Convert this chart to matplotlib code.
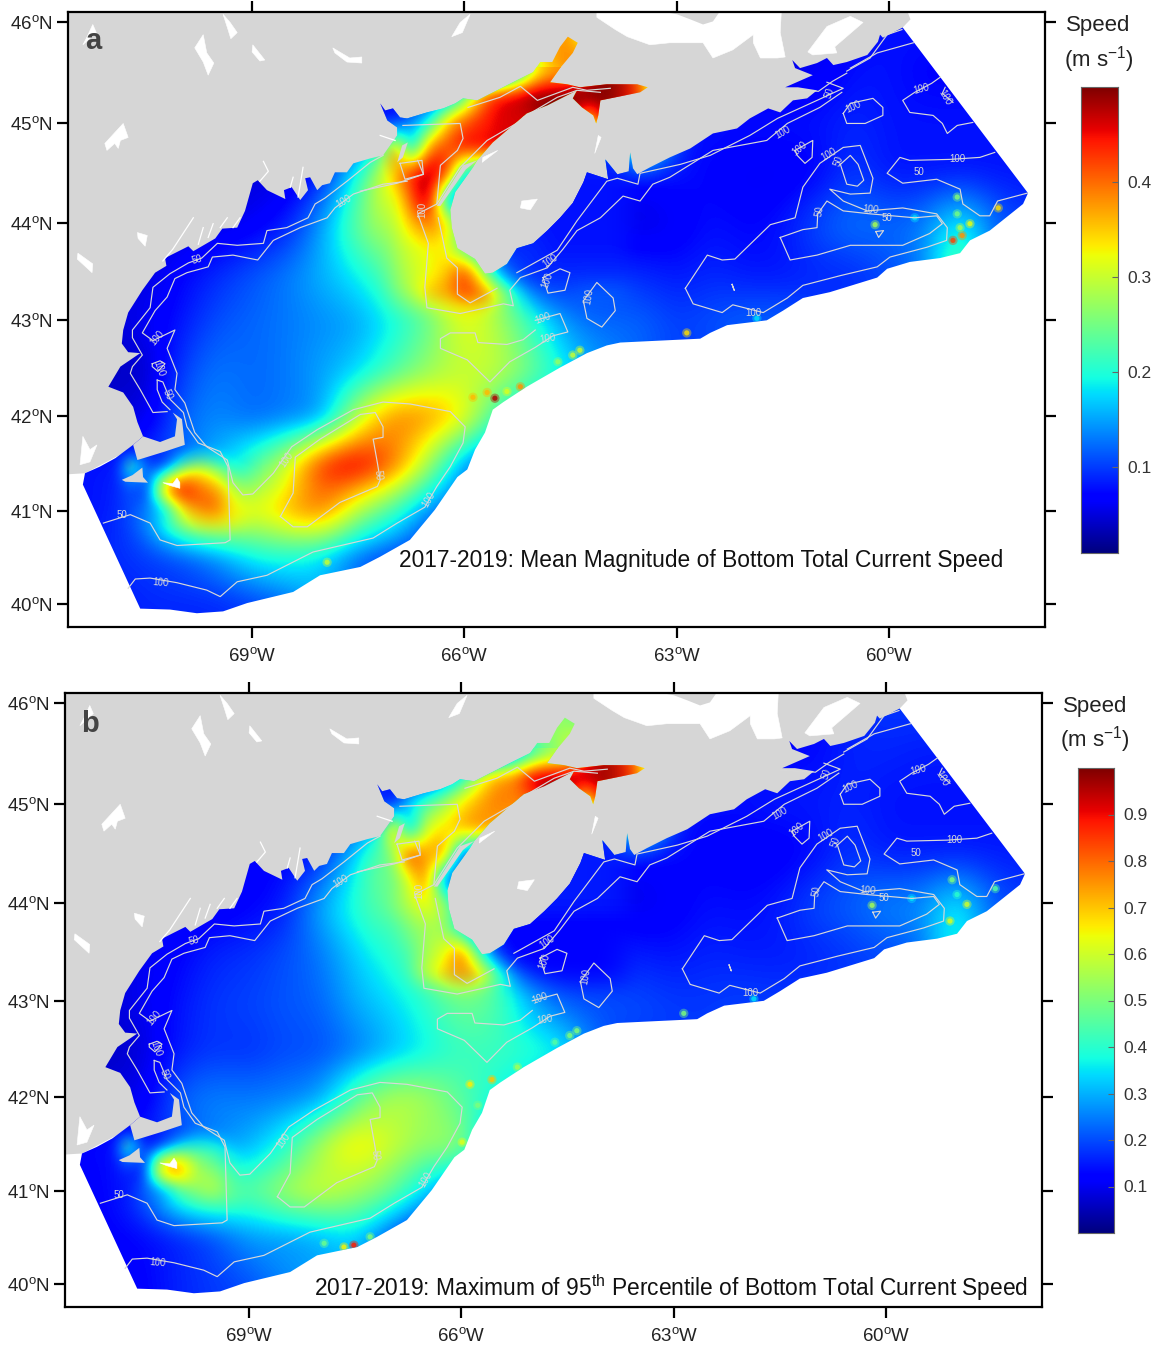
import numpy as np
import matplotlib
matplotlib.use("Agg")
import matplotlib.pyplot as plt
from matplotlib.patches import Polygon

plt.rcParams['font.family'] = ['Liberation Sans', 'DejaVu Sans']
plt.rcParams['mathtext.fontset'] = 'custom'
plt.rcParams['mathtext.rm'] = 'Liberation Sans'
plt.rcParams['mathtext.default'] = 'rm'

# ------------------------------------------------------------------ speed grids (cm/s)
BASE_LON = np.arange(-71.5, -57.9, 0.5)
BASE_LAT = np.arange(46, 39.9, -0.5)
base_a = [
 [5]*13+[35,42]+[5]*7+[7,8,8,8,8,8],
 [5]*13+[33,40,45,45,5,5,5,6,6,8,8,7,7,7,7],
 [5]*9+[10,20,37,42,30,10,45,45,8,8,8,8,8,9,8,8,8,8,8],
 [5,5,5,5,5,5,5,8,20,38,44,25,12,8,7,7,7,8,7,6,6,7,10,8,8,8,8,8],
 [5,5,5,5,5,6,8,15,25,31,38,20,10,8,7,6,5,6,8,7,8,11,13,12,13,20,12,10],
 [5,5,5,7,9,11,13,16,19,24,31,40,25,12,9,9,9,8,9,8,8,9,9,11,13,28,10,10],
 [5,5,6,8,11,12,13,14,15,19,24,33,28,20,13,12,12,10,11,12,12,10,10,10,10,10,10,10],
 [4,4,4,10,13,12,13,15,17,22,27,30,30,24,18,14,12,10,10,10,10,10,10,10,10,10,10,10],
 [5,5,5,12,14,12,13,14,30,39,38,33,20,15,15,12]+[10]*12,
 [8,8,10,12,16,22,30,44,47,40,28,14]+[10]*16,
 [8,8,13,33,38,31,36,40,28,22,13,10]+[10]*16,
 [9,9,10,11,14,19,20,18,12,10,8,8]+[8]*16,
 [8,8,9,9,9,10,12,16,12,10,8,8]+[8]*16,
]
base_b = [
 [12]*13+[50,55]+[12]*7+[16,18,18,18,18,18],
 [12]*13+[45,58,90,85,12,12,12,13,13,16,16,15,15,15,15],
 [12]*9+[20,40,60,70,50,15,85,85,14,14,14,15,15,16,14,14,14,14,14],
 [12,12,12,12,12,12,12,14,34,55,62,40,18,13,12,12,12,13,12,11,11,13,18,15,15,15,15,15],
 [10,10,10,10,10,12,14,30,40,50,55,35,15,13,12,10,9,11,14,13,15,20,22,26,26,38,22,18],
 [8,8,10,12,16,17,20,24,33,40,46,65,45,20,16,17,15,14,16,15,15,16,18,20,22,45,20,18],
 [8,8,10,14,18,19,21,22,30,34,40,50,45,28,20,20,20,18,18,19,18,18,18,18,18,18,18,18],
 [6,6,8,15,18,17,20,20,24,30,36,42,42,40,36,20,18,18]+[18]*10,
 [9,9,9,22,25,24,25,27,45,57,55,45,38,30,25,20]+[18]*12,
 [13,13,16,20,26,30,38,55,68,60,52,55,20]+[15]*15,
 [12,12,20,44,52,44,55,60,55,48,33,20]+[15]*16,
 [12,12,13,16,20,28,28,30,35,20,10,10]+[10]*16,
 [10,10,12,16,18,20,26,28,30,15,10,10]+[10]*16,
]

FUNDY_LON = np.arange(-67.25, -63.4, 0.25)
FUNDY_LAT = np.arange(45.5, 42.9, -0.25)
fundy_a = [
 [8,8,8,8,8,8,8,8,20,33,38,38,45,50,50,45],
 [5,5,8,8,14,25,40,46,47,50,50,50,50,50,48,45],
 [8,8,14,20,36,42,44,46,46,46,50,50,28,50,50,40],
 [30,42,15,40,42,45,45,46,46,46,10,10,10,10,10,10],
 [28,38,44,48,44,16,16,8,8,8,8,8,8,8,8,8],
 [26,30,42,50,14,12,8,8,8,8,8,8,8,8,8,8],
 [24,29,36,40,34,20,8,8,8,8,8,8,8,8,8,8],
 [22,28,31,33,33,22,15,9,9,9,8,8,8,8,8,7],
 [23,27,30,32,35,42,28,14,10,9,9,9,9,9,9,9],
 [22,26,29,36,38,44,42,30,18,12,11,11,12,12,12,11],
 [21,24,26,27,30,33,33,28,22,15,12,12,12,12,12,12],
]
fundy_b = [
 [10,10,10,10,10,10,10,10,28,45,55,58,85,97,95,85],
 [12,12,14,14,24,40,62,76,78,95,98,96,94,98,95,90],
 [12,10,34,45,55,68,74,78,76,78,95,95,50,95,95,80],
 [50,88,25,62,68,72,76,72,72,72,15,15,15,15,15,15],
 [42,50,88,72,78,22,18,15,15,15,15,15,15,15,15,15],
 [42,46,62,80,22,15,15,15,15,15,15,15,15,15,15,15],
 [40,50,58,65,55,32,15,15,15,15,15,15,15,15,15,15],
 [38,42,50,55,55,35,15,12,12,12,12,12,12,12,12,12],
 [36,40,44,55,62,78,42,18,12,12,12,12,12,12,12,12],
 [34,37,42,60,70,80,72,45,22,15,13,12,12,12,12,12],
 [32,34,37,42,50,55,50,42,28,22,18,16,16,16,16,16],
]

SHOAL_LON = np.arange(-71.0, -68.9, 0.25)
SHOAL_LAT = np.arange(41.75, 40.7, -0.25)
shoal_a = [
 [8,8,6,7,9,15,14,15,17],
 [8,30,10,9,24,30,24,19,17],
 [9,12,8,38,46,40,37,30,26],
 [9,10,13,17,34,40,41,33,33],
 [10,11,12,15,25,33,35,33,31],
]
shoal_b = [
 [12,12,9,10,12,26,22,24,26],
 [14,62,12,18,36,40,38,32,30],
 [14,18,12,78,80,55,50,44,40],
 [12,12,22,28,48,54,60,48,44],
 [14,14,18,22,32,40,44,46,44],
]

# local peaks along the shelf edge and banks: lon, lat, speed
spots_a = [(-67.94,40.45,30),(-62.86,42.87,34),(-61.87,43.02,18),(-65.57,42.19,48),(-65.88,42.20,36),
           (-65.68,42.25,36),(-65.21,42.31,38),(-65.40,42.26,31),(-64.47,42.64,30),(-64.37,42.69,30),
           (-64.68,42.57,27),(-59.04,44.26,26),(-59.10,43.82,42),(-58.97,43.87,38),(-58.86,43.99,32),
           (-59.00,43.95,28),(-59.04,44.09,25),(-58.46,44.15,34),(-60.20,43.98,28),(-59.64,44.05,18)]
spots_b = [(-67.52,40.42,88),(-67.66,40.40,65),(-67.94,40.44,48),(-67.29,40.51,50),(-65.99,41.52,62),
           (-65.88,42.13,66),(-65.57,42.18,70),(-65.77,41.91,50),(-62.86,42.87,50),(-61.87,43.02,35),
           (-60.20,43.98,55),(-59.64,44.05,35),(-59.07,44.24,50),(-59.10,43.82,62),(-58.86,43.99,60),
           (-58.46,44.15,45),(-59.00,44.09,40),(-65.21,42.31,55),(-64.47,42.64,50),(-64.37,42.69,50),(-64.68,42.57,45)]

# ------------------------------------------------------------------ outlines (lon, lat)
domain = [(-71.39,41.28),(-70.58,39.95),(-70.16,39.94),(-69.78,39.90),(-69.41,39.92),(-69.07,40.01),(-68.42,40.13),
 (-68.04,40.31),(-67.47,40.40),(-67.19,40.51),(-66.77,40.69),(-66.42,41.01),(-66.10,41.36),(-65.96,41.44),(-65.85,41.65),
 (-65.71,41.83),(-65.60,42.07),(-65.45,42.15),(-65.12,42.31),(-64.65,42.51),(-64.27,42.66),(-63.99,42.74),(-63.80,42.77),
 (-63.24,42.79),(-62.67,42.81),(-62.53,42.87),(-62.29,42.95),(-61.73,43.00),(-61.50,43.10),(-61.22,43.23),(-60.84,43.29),
 (-60.17,43.44),(-60.03,43.53),(-59.71,43.60),(-59.28,43.64),(-59.00,43.69),(-58.86,43.82),(-58.58,43.92),(-58.11,44.19),
 (-58.04,44.30),(-59.81,45.95),(-60.09,45.85),(-60.13,45.88),(-60.16,45.81),(-60.31,45.68),(-60.60,45.61),(-60.79,45.58),
 (-60.88,45.65),(-61.02,45.60),(-61.26,45.55),(-61.37,45.63),(-61.33,45.55),(-61.08,45.48),(-61.47,45.36),(-61.29,45.36),
 (-61.02,45.33),(-61.16,45.25),(-61.36,45.23),(-61.54,45.11),(-61.71,45.15),(-61.97,45.05),(-62.15,44.95),(-62.49,44.90),
 (-62.81,44.75),(-63.10,44.66),(-63.38,44.56),(-63.56,44.49),(-63.62,44.55),(-63.66,44.71),(-63.68,44.52),(-63.84,44.49),
 (-64.01,44.64),(-63.97,44.44),
 (-64.27,44.51),(-64.32,44.41),(-64.47,44.20),(-64.65,44.05),(-64.83,43.92),(-65.03,43.79),(-65.26,43.74),(-65.40,43.58),
 (-65.60,43.49),(-65.71,43.48),(-65.85,43.63),(-66.10,43.74),(-66.18,43.95),(-66.20,44.13),(-66.13,44.31),(-65.88,44.56),
 (-65.82,44.63),(-65.60,44.81),(-65.12,45.10),(-64.83,45.18),(-64.41,45.33),(-64.47,45.25),(-64.34,45.16),(-64.18,45.08),
 (-64.14,45.00),(-64.11,45.08),(-64.08,45.23),(-63.52,45.31),(-63.41,45.36),(-63.56,45.39),(-63.99,45.39),(-64.37,45.36),
 (-64.55,45.39),(-64.79,45.41),(-64.65,45.55),(-64.47,45.70),(-64.40,45.80),(-64.54,45.86),(-64.65,45.76),(-64.76,45.61),
 (-64.93,45.61),(-65.03,45.51),(-65.26,45.43),(-65.54,45.33),(-65.82,45.23),(-66.02,45.25),(-66.13,45.20),(-66.30,45.15),
 (-66.53,45.11),(-66.81,45.05),(-66.91,45.06),(-67.01,45.15),(-67.12,45.13),(-67.19,45.20),(-67.09,45.03),(-66.95,44.96),
 (-66.95,44.88),(-67.15,44.68),(-67.33,44.65),(-67.57,44.60),(-67.66,44.51),(-67.83,44.51),(-67.90,44.40),(-68.01,44.38),
 (-68.08,44.33),(-68.18,44.46),(-68.25,44.45),(-68.21,44.33),(-68.32,44.23),(-68.44,44.36),(-68.55,44.33),(-68.53,44.24),
 (-68.79,44.33),(-68.92,44.43),(-68.99,44.40),(-69.10,44.12),(-69.21,43.95),(-69.42,43.94),(-69.52,43.84),(-69.83,43.71),
 (-69.90,43.76),(-70.23,43.64),(-70.21,43.56),(-70.37,43.49),(-70.55,43.31),(-70.75,43.08),(-70.82,42.90),(-70.84,42.76),
 (-70.75,42.67),(-70.58,42.66),(-70.86,42.52),(-71.03,42.31),(-70.82,42.25),(-70.68,42.10),(-70.62,41.94),(-70.54,41.79),
 (-70.68,41.70),(-70.93,41.56),(-71.15,41.47),(-71.36,41.40)]
land = [(-71.8,46.3),(-71.8,41.38),(-71.36,41.40),(-70.6,41.7),(-69.5,43),(-67,44),(-66.3,43.9),(-65.8,43.45),(-65.5,43.3),
        (-63,44),(-60,45),(-59.81,45.95),(-59.7,46.03),(-59.85,46.3)]
cape_cod = [(-70.54,41.79),(-70.30,41.73),(-70.09,41.79),(-70.06,41.97),(-70.12,42.04),(-69.99,41.97),(-69.95,41.70),
            (-70.23,41.63),(-70.62,41.54),(-70.68,41.70)]
small_land = [
 [(-70.84,41.33),(-70.69,41.38),(-70.55,41.46),(-70.54,41.36),(-70.47,41.30),(-70.79,41.31)],
 [(-66.39,44.17),(-66.02,44.58),(-65.82,44.63),(-65.98,44.54),(-66.34,44.17)],
 [(-66.95,44.61),(-66.88,44.78),(-66.80,44.81),(-66.87,44.66)],
]
white_water = [
 [(-64.13,46.3),(-64.13,46.05),(-63.87,45.93),(-63.70,45.86),(-63.38,45.78),(-63.10,45.80),(-62.63,45.80),(-62.49,45.65),
  (-62.21,45.73),(-61.92,45.88),(-61.92,45.80),(-61.82,45.65),(-61.58,45.65),(-61.47,45.66),(-61.54,45.90),(-61.51,46.3)],
 [(-61.15,45.71),(-60.88,45.96),(-60.55,46.06),(-60.37,46.0),(-60.77,45.76),(-60.74,45.70),(-61.08,45.68)],
 [(-71.25,45.98),(-71.20,45.90),(-71.39,45.78),(-71.33,45.86)],
 [(-69.41,46.08),(-69.31,46.0),(-69.21,45.90),(-69.30,45.84),(-69.34,45.93)],
 [(-69.69,45.88),(-69.64,45.70),(-69.54,45.60),(-69.62,45.48),(-69.69,45.61),(-69.81,45.75)],
 [(-68.99,45.78),(-68.82,45.63),(-68.89,45.62),(-69.0,45.71)],
 [(-67.86,45.75),(-67.62,45.65),(-67.45,45.66),(-67.45,45.60),(-67.66,45.61),(-67.83,45.70)],
 [(-70.82,45.0),(-70.75,44.86),(-70.86,44.83),(-70.89,44.75),(-70.94,44.80),(-71.05,44.73),(-71.08,44.80)],
 [(-70.62,43.90),(-70.48,43.87),(-70.51,43.76),(-70.61,43.84)],
 [(-71.46,43.69),(-71.25,43.58),(-71.26,43.49),(-71.47,43.63)],
 [(-65.92,46.08),(-66.03,45.90),(-66.18,45.86),(-66.06,46.0)],
 [(-65.19,44.22),(-64.97,44.24),(-65.07,44.13),(-65.21,44.15)],
 [(-65.53,44.73),(-65.75,44.61),(-65.74,44.66)],
 [(-64.11,44.88),(-64.07,44.86),(-64.16,44.70)],
 [(-71.39,41.79),(-71.43,41.49),(-71.29,41.52),(-71.19,41.70),(-71.29,41.65)],
 [(-70.26,41.30),(-70.12,41.29),(-70.06,41.35),(-70.02,41.30),(-70.02,41.24),(-70.16,41.27)],
]
pei = [(-63.24,46.3),(-63.24,46.11),(-63.0,46.08),(-62.81,46.03),(-62.63,45.98),(-62.49,46.01),(-62.39,46.11),(-62.39,46.3)]
estuaries = [
 [(-70.26,43.61),(-70.12,43.73),(-69.83,44.05)],[(-69.76,43.78),(-69.69,43.95)],[(-69.62,43.85),(-69.55,43.99)],
 [(-69.45,43.95),(-69.35,44.05)],[(-69.27,43.95),(-69.17,44.05)],[(-68.84,44.62),(-68.77,44.52),(-68.89,44.42)],
 [(-68.46,44.36),(-68.42,44.46)],[(-68.35,44.26),(-68.28,44.56)],[(-67.19,44.88),(-66.98,44.83)],
]
contours = [
 [(-67.15,44.68),(-67.33,44.61),(-67.66,44.42),(-67.97,44.25),(-68.11,44.19),(-68.21,44.05),(-68.51,43.95),(-68.79,43.92),
  (-68.84,43.79),(-69.21,43.77),(-69.49,43.79),(-69.71,43.64),(-69.90,43.59),(-70.16,43.48),(-70.40,43.34),(-70.44,43.13),
  (-70.69,42.90),(-70.69,42.82),(-70.55,42.64),(-70.69,42.52),(-70.72,42.45),(-70.58,42.28),(-70.40,42.04),(-70.20,42.05)],
 [(-66.81,44.42),(-67.15,44.39),(-67.57,44.29),(-67.83,44.15),(-67.94,44.05),(-68.32,43.95),(-68.70,43.82),(-68.92,43.62),
  (-69.27,43.67),(-69.56,43.65),(-69.62,43.55),(-69.92,43.49),(-70.09,43.43),(-70.20,43.24),(-70.37,43.10),(-70.55,42.87),
  (-70.40,42.79),(-70.09,42.90),(-70.20,42.71),(-70.06,42.45),(-70.09,42.28),(-69.95,42.14),(-69.81,41.83),(-69.64,41.68),
  (-69.35,41.54),(-69.27,41.30),(-69.13,41.17),(-68.99,41.18),(-68.70,41.40),(-68.44,41.68),(-68.08,41.86),(-67.57,42.07),
  (-67.15,42.15),(-66.77,42.13),(-66.20,42.05),(-65.99,41.89),(-66.02,41.72),(-66.20,41.47),(-66.39,41.26),(-66.56,41.04),
  (-66.95,40.87),(-67.29,40.71),(-68.14,40.56),(-68.79,40.31),(-69.21,40.24),(-69.45,40.08),(-69.64,40.15),(-70.06,40.23),
  (-70.44,40.28),(-70.65,40.27),(-70.75,40.17)],
 [(-70.34,42.38),(-70.26,42.36),(-70.16,42.18),(-69.97,42.04),(-69.92,41.89),(-69.76,41.72),(-69.45,41.63),(-69.34,41.47),
  (-69.31,40.69),(-69.38,40.66),(-70.06,40.63),(-70.30,40.69),(-70.44,40.87),(-70.72,40.96),(-71.10,40.87)],
 [(-70.34,42.38),(-70.34,42.28),(-70.27,42.15),(-70.16,42.07)],
 [(-70.41,42.55),(-70.30,42.58),(-70.23,42.55),(-70.33,42.47),(-70.41,42.52),(-70.41,42.55)],
 [(-68.60,40.94),(-68.42,41.19),(-68.39,41.57),(-68.04,41.76),(-67.47,42.02),(-67.26,42.04),(-67.15,41.89),(-67.15,41.78),
  (-67.29,41.76),(-67.23,41.51),(-67.19,41.33),(-67.23,41.26),(-67.76,41.09),(-68.22,40.83),(-68.42,40.83),(-68.60,40.94)],
 [(-67.47,44.32),(-66.95,44.40),(-66.58,44.49),(-66.66,44.63)],
 [(-66.87,44.98),(-66.06,45.0),(-66.02,44.85),(-66.10,44.73),(-66.34,44.58),(-66.39,44.19),(-66.66,44.09),(-66.51,43.79),
  (-66.56,43.34),(-66.53,43.13),(-66.06,43.07),(-65.45,43.17),(-65.31,43.15),(-65.36,43.31),(-65.21,43.44),(-64.83,43.54),
  (-64.61,43.73),(-64.41,43.92),(-64.08,44.05),(-63.76,44.27),(-63.52,44.22),(-63.34,44.39),(-63.10,44.46),(-62.49,44.73),
  (-61.73,44.83),(-61.44,45.0),(-60.98,45.16),(-60.67,45.31)],
 [(-60.55,45.55),(-60.17,45.70),(-59.66,45.80)],
 [(-65.26,43.49),(-64.69,43.72),(-64.41,44.02),(-63.99,44.42),(-63.84,44.45),(-63.55,44.39),(-63.52,44.50),(-62.95,44.59),
  (-62.53,44.68),(-61.97,44.88),(-61.58,45.05),(-61.02,45.23),(-60.65,45.35),(-60.88,45.41)],
 [(-60.60,45.52),(-60.27,45.65),(-60.03,45.88),(-59.82,45.93)],
 [(-61.5,45.34),(-61.0,45.32),(-60.8,45.42),(-60.6,45.5)],
 [(-65.95,45.16),(-65.50,45.26),(-65.21,45.37),(-64.97,45.23),(-64.47,45.36),(-64.27,45.33),(-63.94,45.35)],
 [(-65.17,45.06),(-64.69,45.26),(-64.41,45.33),(-64.08,45.31)],
 [(-66.39,44.19),(-66.06,44.56),(-65.68,44.83),(-65.12,45.06)],
 [(-66.91,44.60),(-66.60,44.63),(-66.58,44.49),(-66.84,44.44),(-66.91,44.60)],
 [(-66.37,44.05),(-66.25,43.64),(-66.10,43.54),(-66.10,43.27),(-65.92,43.18),(-65.54,43.33)],
 [(-64.89,43.44),(-64.65,43.53),(-64.51,43.49),(-64.58,43.31),(-64.82,43.28),(-64.89,43.44)],
 [(-64.32,43.20),(-64.13,43.39),(-63.90,43.23),(-63.87,43.10),(-64.06,42.93),(-64.27,43.02),(-64.32,43.20)],
 [(-65.00,43.0),(-64.65,43.07),(-64.54,42.88),(-64.75,42.84),(-65.0,42.72),(-65.36,42.57),(-65.64,42.36),(-65.96,42.59),
  (-66.34,42.71),(-66.34,42.81),(-66.20,42.87),(-65.85,42.87),(-65.81,42.77),(-65.40,42.75),(-65.17,42.80),(-65.0,42.90)],
 [(-60.65,45.10),(-60.55,45.20),(-60.23,45.25),(-60.09,45.16),(-60.09,45.08),(-60.34,45.0),(-60.60,45.0),(-60.65,45.10)],
 [(-59.28,45.46),(-59.40,45.40),(-59.64,45.31),(-59.81,45.23),(-59.71,45.11),(-59.38,45.08),(-59.25,45.0),(-59.18,44.90),
  (-59.04,44.98),(-58.82,45.01)],
 [(-59.21,45.36),(-59.25,45.30),(-59.10,45.21)],
 [(-61.33,44.73),(-61.08,44.83),(-61.09,44.66),(-61.19,44.60),(-61.30,44.68),(-61.33,44.73)],
 [(-58.51,44.71),(-58.72,44.66),(-59.14,44.64),(-59.71,44.63),(-59.85,44.66),(-60.03,44.50),(-59.81,44.40),(-59.33,44.44),
  (-59.0,44.34),(-58.96,44.19),(-58.72,44.07),(-58.58,44.07),(-58.47,44.22),(-58.05,44.30)],
 [(-62.88,43.33),(-62.57,43.67),(-62.36,43.62),(-62.18,43.63),(-61.68,43.98),(-61.33,44.05),(-61.22,44.36),(-60.98,44.60),
  (-60.65,44.76),(-60.41,44.78),(-60.23,44.45),(-60.27,44.30),(-60.55,44.29),(-60.84,44.34),(-60.65,44.22),(-60.31,44.12),
  (-59.81,44.15),(-59.33,44.09),(-59.18,43.95),(-59.19,43.82),(-59.47,43.75),(-59.99,43.65),(-60.17,43.55),(-60.69,43.46),
  (-61.22,43.36),(-61.44,43.23),(-61.78,43.08),(-62.21,43.16),(-62.36,43.08),(-62.77,43.17),(-62.88,43.33)],
 [(-61.54,43.85),(-61.22,43.93),(-61.02,43.95),(-61.01,44.09),(-60.88,44.22),(-60.65,44.12),(-60.27,44.09),(-59.64,44.05),
  (-59.33,44.07),(-59.25,43.99),(-59.43,43.89),(-59.81,43.77),(-60.55,43.77),(-61.02,43.67),(-61.40,43.62),(-61.54,43.85)],
 [(-60.69,44.59),(-60.55,44.68),(-60.44,44.59),(-60.36,44.43),(-60.45,44.37),(-60.60,44.39),(-60.69,44.59)],
 [(-60.19,43.91),(-60.08,43.92),(-60.15,43.85),(-60.19,43.91)],
 [(-62.22,43.37),(-62.19,43.31),(-62.22,43.37)],
]
depth_labels = [(-67.71,44.22,'100',30),(-69.78,43.62,'50',15),(-70.34,42.82,'100',50),(-70.31,42.50,'100',-70),
 (-70.20,42.23,'50',-65),(-68.52,41.54,'100',55),(-67.22,41.38,'50',-85),(-70.84,40.96,'50',0),(-70.29,40.23,'100',-5),
 (-66.60,44.13,'100',90),(-64.79,43.61,'100',35),(-64.83,43.41,'100',70),(-64.25,43.25,'100',80),(-64.89,43.02,'100',20),
 (-64.82,42.81,'100',10),(-66.51,41.12,'100',60),(-60.84,45.30,'50',70),(-60.51,45.17,'100',25),(-61.50,44.91,'100',30),
 (-59.54,45.34,'100',15),(-59.21,45.26,'100',-60),(-61.27,44.75,'100',40),(-60.85,44.69,'100',30),(-60.71,44.62,'50',70),
 (-59.04,44.64,'100',0),(-59.58,44.51,'50',0),(-60.26,44.13,'100',-5),(-60.03,44.05,'50',0),(-60.98,44.12,'50',80),
 (-61.92,43.08,'100',0)]

lon_ticks = [-69, -66, -63, -60]
lat_ticks = [40, 41, 42, 43, 44, 45, 46]
cbar_a = [0.1, 0.2, 0.3, 0.4]
cbar_b = [0.1, 0.2, 0.3, 0.4, 0.5, 0.6, 0.7, 0.8, 0.9]

# ------------------------------------------------------------------ drawing
W, H = 1159, 1348
LAND = '#d6d6d6'
CONTOUR = '#d8d8d8'

def merc(lat):
    return np.degrees(np.log(np.tan(np.radians(45 + np.asarray(lat, float) / 2))))

def xy(points):
    p = np.array(points, float)
    return np.column_stack([p[:, 0], merc(p[:, 1])])

def box(l, t, r, b):
    return [l / W, 1 - b / H, (r - l) / W, (b - t) / H]

def fade(n, span, both=True):
    i = np.arange(n, dtype=float)
    edge = np.minimum(i, n - 1 - i) if both else n - 1 - i
    return np.clip(edge / span, 0, 1)

def show_grid(ax, lon, lat, grid, vmin, vmax, clip, z, fade_top=None):
    g = np.array(grid, float) / 100
    my = merc(lat)
    ny = 2 * len(lat)
    new_y = np.linspace(my[0], my[-1], ny)
    rows = np.array([np.interp(new_y, my[::-1], g[::-1, c]) for c in range(g.shape[1])]).T
    dx = (lon[1] - lon[0]) / 2
    dy = (new_y[0] - new_y[1]) / 2
    alpha = None
    if fade_top is not None:
        alpha = np.outer(fade(ny, 3.0, both=fade_top), fade(g.shape[1], 1.5))
    im = ax.imshow(rows, cmap='jet', vmin=vmin, vmax=vmax, aspect='auto', interpolation='bicubic', alpha=alpha,
                   extent=[lon[0] - dx, lon[-1] + dx, new_y[-1] - dy, new_y[0] + dy], zorder=z)
    im.set_clip_path(clip)

def panel(ax, base, fundy, shoal, spots, vmin, vmax):
    ax.set_facecolor('white')
    ax.add_patch(Polygon(xy(land), fc=LAND, ec='none', zorder=1))
    clip = Polygon(xy(domain), fc='none', ec='none', transform=ax.transData, zorder=2)
    ax.add_patch(clip)
    show_grid(ax, BASE_LON, BASE_LAT, base, vmin, vmax, clip, 2)
    show_grid(ax, FUNDY_LON, FUNDY_LAT, fundy, vmin, vmax, clip, 3, fade_top=False)
    show_grid(ax, SHOAL_LON, SHOAL_LAT, shoal, vmin, vmax, clip, 3, fade_top=True)
    s = np.array(spots, float)
    for size, al in ((45, 0.4), (14, 0.8)):
        sc = ax.scatter(s[:, 0], merc(s[:, 1]), c=s[:, 2] / 100, cmap='jet', vmin=vmin, vmax=vmax,
                        s=size, linewidths=0, alpha=al, zorder=4)
        sc.set_clip_path(clip)
    ax.add_patch(Polygon(xy(cape_cod), fc=LAND, ec='none', zorder=5))
    for p in small_land:
        ax.add_patch(Polygon(xy(p), fc=LAND, ec='none', zorder=5))
    for p in white_water:
        ax.add_patch(Polygon(xy(p), fc='white', ec='white', lw=0.4, zorder=5))
    ax.add_patch(Polygon(xy(pei), fc=LAND, ec='none', zorder=5.5))
    for p in estuaries:
        q = xy(p)
        ax.plot(q[:, 0], q[:, 1], color='white', lw=0.9, zorder=5)
    for p in contours:
        q = xy(p)
        ax.plot(q[:, 0], q[:, 1], color=CONTOUR, lw=0.85, zorder=6)
    for lo, la, t, r in depth_labels:
        ax.text(lo, merc(la), t, color=CONTOUR, fontsize=7, rotation=r, ha='center', va='center', zorder=7)
    ax.set_xlim(-71.6, -57.8)
    ax.set_ylim(merc(40) - 23 / 70.8, merc(40) + 592 / 70.8)
    ax.set_xticks(lon_ticks)
    ax.set_xticklabels([f'{-v}$^{{\\mathrm{{o}}}}$W' for v in lon_ticks])
    ax.set_yticks(merc(lat_ticks))
    ax.set_yticklabels([f'{v}$^{{\\mathrm{{o}}}}$N' for v in lat_ticks])
    ax.tick_params(axis='both', which='major', top=True, right=True, length=8, width=1.6, direction='out',
                   labelsize=13.5, labelcolor='#222222')
    ax.tick_params(axis='x', pad=6.5)
    ax.tick_params(axis='y', pad=3)
    for sp in ax.spines.values():
        sp.set_linewidth(1.6)
        sp.set_zorder(20)

def colorbar(fig, rect, vmin, vmax, ticks):
    cax = fig.add_axes(box(*rect))
    cax.imshow(np.linspace(vmax, vmin, 256)[:, None], cmap='jet', vmin=vmin, vmax=vmax, aspect='auto',
               extent=[0, 1, vmin, vmax])
    cax.set_xticks([])
    cax.yaxis.tick_right()
    cax.set_yticks(ticks)
    cax.set_yticklabels([f'{v:.1f}' for v in ticks])
    cax.tick_params(axis='y', direction='in', length=4, width=0.8, color='#666666', labelsize=12.5,
                    labelcolor='#333333', pad=7)
    for sp in cax.spines.values():
        sp.set_linewidth(0.8)
        sp.set_color('#666666')

fig = plt.figure(figsize=(W / 100, H / 100), dpi=100, facecolor='white')
ax_a = fig.add_axes(box(68, 12, 1045, 627))
ax_b = fig.add_axes(box(65, 693, 1042, 1307))
panel(ax_a, base_a, fundy_a, shoal_a, spots_a, 0.01, 0.50)
panel(ax_b, base_b, fundy_b, shoal_b, spots_b, 0.0, 1.0)
colorbar(fig, (1081, 87, 1118, 553), 0.01, 0.50, cbar_a)
colorbar(fig, (1078, 768, 1114, 1233), 0.0, 1.0, cbar_b)

def ftext(x, y, s, **kw):
    fig.text(x / W, 1 - y / H, s, **kw)

ftext(93, 41, 'a', fontsize=21, fontweight='bold', color='#444444', ha='center', va='center', zorder=30)
ftext(90, 724, 'b', fontsize=21, fontweight='bold', color='#444444', ha='center', va='center', zorder=30)
ftext(1098, 26, 'Speed', fontsize=16, color='#222222', ha='center', va='center')
ftext(1099, 60, '(m s$^{-1}$)', fontsize=16, color='#222222', ha='center', va='center')
ftext(1095, 706, 'Speed', fontsize=16, color='#222222', ha='center', va='center')
ftext(1095, 740, '(m s$^{-1}$)', fontsize=16, color='#222222', ha='center', va='center')
ftext(701, 560, '2017-2019: Mean Magnitude of Bottom Total Current Speed', fontsize=16.4, color='#111111',
      ha='center', va='center', zorder=30)
ftext(671, 1288, '2017-2019: Maximum of 95$^{\\mathrm{th}}$ Percentile of Bottom Total Current Speed', fontsize=16.4,
      color='#111111', ha='center', va='center', zorder=30)

fig.savefig('out.png', dpi=100)
